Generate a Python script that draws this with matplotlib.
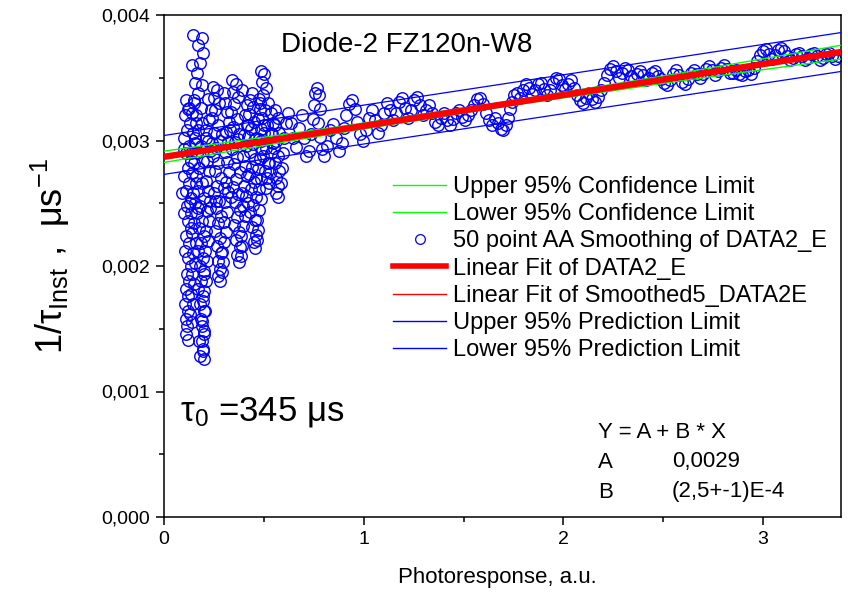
import matplotlib

matplotlib.use("Agg")
import matplotlib.pyplot as plt
import numpy as np
from matplotlib import font_manager
from matplotlib.lines import Line2D
from matplotlib.ticker import FuncFormatter, MultipleLocator

# photoresponse (a.u.) and 1/tau_inst in units of 1e-3 us^-1
column_a_down = [
    (0.11, 3.32), (0.125, 3.26), (0.105, 3.20), (0.13, 3.14), (0.115, 3.08), (0.10, 3.02),
    (0.125, 2.96), (0.11, 2.90), (0.135, 2.84), (0.12, 2.78), (0.10, 2.72), (0.125, 2.66),
    (0.11, 2.60), (0.135, 2.54), (0.115, 2.48), (0.10, 2.42), (0.12, 2.36), (0.135, 2.30),
    (0.11, 2.24), (0.125, 2.18), (0.105, 2.12), (0.12, 2.06), (0.135, 2.00), (0.115, 1.94),
    (0.125, 1.88), (0.11, 1.82), (0.12, 1.76), (0.105, 1.70), (0.12, 1.64), (0.11, 1.58),
    (0.115, 1.52), (0.11, 1.46), (0.12, 1.41),
]
column_a_up = [
    (0.14, 1.55), (0.13, 1.62), (0.145, 1.70), (0.135, 1.78), (0.15, 1.86), (0.14, 1.94),
    (0.155, 2.02), (0.145, 2.10), (0.16, 2.18), (0.14, 2.26), (0.15, 2.34), (0.135, 2.42),
    (0.155, 2.50), (0.145, 2.58), (0.16, 2.66), (0.14, 2.74), (0.15, 2.82), (0.135, 2.90),
    (0.155, 2.98), (0.145, 3.06), (0.16, 3.14), (0.14, 3.22), (0.15, 3.30),
]
spike_down = [
    (0.145, 3.84), (0.19, 3.82), (0.17, 3.76), (0.195, 3.70), (0.18, 3.62), (0.14, 3.60),
    (0.165, 3.54), (0.155, 3.46), (0.19, 3.44), (0.17, 3.38), (0.15, 3.32), (0.185, 3.26),
    (0.16, 3.20), (0.19, 3.14), (0.17, 3.08), (0.155, 3.02), (0.185, 2.96), (0.165, 2.90),
    (0.195, 2.84), (0.175, 2.78), (0.16, 2.72), (0.19, 2.66), (0.17, 2.60), (0.20, 2.54),
    (0.18, 2.48), (0.165, 2.42), (0.19, 2.36), (0.175, 2.30), (0.20, 2.24), (0.185, 2.18),
    (0.17, 2.12), (0.195, 2.06), (0.18, 2.00), (0.20, 1.94), (0.185, 1.88), (0.17, 1.82),
    (0.195, 1.76), (0.18, 1.70), (0.20, 1.64), (0.185, 1.58), (0.19, 1.52), (0.20, 1.46),
    (0.175, 1.40), (0.195, 1.34), (0.18, 1.28), (0.20, 1.26),
]
column_a_return = [
    (0.195, 1.32), (0.19, 1.40), (0.20, 1.48), (0.19, 1.56), (0.205, 1.64), (0.195, 1.72),
    (0.20, 1.80), (0.21, 1.88), (0.20, 1.96), (0.215, 2.04), (0.205, 2.12), (0.22, 2.20),
    (0.21, 2.28), (0.225, 2.36), (0.215, 2.44), (0.23, 2.52), (0.22, 2.60), (0.21, 2.68),
    (0.225, 2.76), (0.215, 2.84), (0.23, 2.92), (0.22, 3.00), (0.21, 3.08), (0.225, 3.16),
    (0.235, 3.24),
]
column_b_down = [
    (0.245, 3.43), (0.265, 3.40), (0.25, 3.34), (0.275, 3.30), (0.255, 3.24), (0.24, 3.18),
    (0.27, 3.12), (0.25, 3.06), (0.28, 3.00), (0.26, 2.94), (0.245, 2.88), (0.27, 2.82),
    (0.255, 2.76), (0.285, 2.70), (0.265, 2.64), (0.25, 2.58), (0.275, 2.52), (0.26, 2.46),
    (0.285, 2.40), (0.27, 2.34), (0.255, 2.28), (0.28, 2.22), (0.265, 2.16), (0.285, 2.10),
    (0.27, 2.04), (0.28, 1.98), (0.27, 1.92), (0.28, 1.88),
]
column_b_up = [
    (0.29, 1.95), (0.295, 2.03), (0.29, 2.11), (0.30, 2.19), (0.31, 2.27), (0.30, 2.35),
    (0.315, 2.43), (0.305, 2.51), (0.32, 2.59), (0.31, 2.67), (0.325, 2.75), (0.315, 2.83),
    (0.305, 2.91), (0.32, 2.99), (0.31, 3.07), (0.325, 3.15), (0.315, 3.23), (0.305, 3.30),
]
column_c_down = [
    (0.34, 3.48), (0.36, 3.45), (0.345, 3.39), (0.37, 3.35), (0.35, 3.29), (0.335, 3.23),
    (0.365, 3.17), (0.345, 3.11), (0.375, 3.05), (0.355, 2.99), (0.34, 2.93), (0.365, 2.87),
    (0.35, 2.81), (0.38, 2.75), (0.36, 2.69), (0.345, 2.63), (0.37, 2.57), (0.355, 2.51),
    (0.38, 2.45), (0.365, 2.39), (0.35, 2.33), (0.375, 2.27), (0.36, 2.21), (0.38, 2.15),
    (0.365, 2.09), (0.375, 2.03),
]
column_c_up = [
    (0.385, 2.08), (0.39, 2.16), (0.385, 2.24), (0.395, 2.32), (0.405, 2.40), (0.395, 2.48),
    (0.41, 2.56), (0.40, 2.64), (0.415, 2.72), (0.405, 2.80), (0.395, 2.88), (0.41, 2.96),
    (0.40, 3.04), (0.415, 3.12), (0.405, 3.20), (0.415, 3.28),
]
column_d_down = [
    (0.43, 3.32), (0.445, 3.27), (0.425, 3.21), (0.45, 3.15), (0.435, 3.09), (0.42, 3.03),
    (0.445, 2.97), (0.43, 2.91), (0.455, 2.85), (0.44, 2.79), (0.425, 2.73), (0.45, 2.67),
    (0.435, 2.61), (0.46, 2.55), (0.445, 2.49), (0.43, 2.43), (0.455, 2.37), (0.44, 2.31),
    (0.46, 2.25), (0.45, 2.19), (0.455, 2.14),
]
column_d_up = [
    (0.465, 2.21), (0.47, 2.29), (0.465, 2.37), (0.475, 2.45), (0.485, 2.53), (0.475, 2.61),
    (0.485, 2.69), (0.47, 2.77), (0.48, 2.85), (0.49, 2.93), (0.475, 3.01), (0.485, 3.09),
    (0.47, 3.17), (0.48, 3.25), (0.475, 3.33),
]
column_e_down = [
    (0.485, 3.55), (0.50, 3.53), (0.49, 3.47), (0.51, 3.42), (0.495, 3.36), (0.48, 3.30),
    (0.505, 3.24), (0.49, 3.18), (0.515, 3.12), (0.50, 3.06), (0.485, 3.00), (0.51, 2.94),
    (0.495, 2.88), (0.52, 2.82), (0.505, 2.76), (0.515, 2.70),
]
column_e_up = [
    (0.525, 2.66), (0.53, 2.74), (0.525, 2.82), (0.535, 2.90), (0.545, 2.98), (0.535, 3.06),
    (0.545, 3.14), (0.535, 3.22),
]
column_f_down = [
    (0.555, 3.24), (0.57, 3.18), (0.555, 3.12), (0.575, 3.06), (0.56, 3.00), (0.55, 2.94),
    (0.57, 2.88), (0.555, 2.82), (0.575, 2.76), (0.56, 2.70), (0.57, 2.64), (0.56, 2.58),
    (0.57, 2.55),
]
cluster_fill = [
    (0.09, 2.58), (0.10, 2.93), (0.13, 2.50), (0.16, 2.97), (0.17, 2.46), (0.21, 3.02),
    (0.23, 2.46), (0.24, 2.98), (0.26, 2.52), (0.29, 3.05), (0.30, 2.62), (0.33, 3.08),
    (0.335, 2.55), (0.37, 3.01), (0.39, 2.58), (0.42, 3.12), (0.42, 2.50), (0.46, 3.02),
    (0.46, 2.70), (0.50, 3.12), (0.51, 2.62), (0.54, 3.05), (0.52, 3.30), (0.44, 3.38),
    (0.39, 3.40), (0.30, 3.38), (0.22, 3.33), (0.12, 3.25),
]
trail_start = [
    (0.585, 2.66), (0.59, 2.78), (0.595, 2.90), (0.60, 3.02), (0.61, 3.14), (0.62, 3.22),
    (0.635, 3.14), (0.645, 3.02), (0.66, 2.95), (0.675, 3.10), (0.69, 3.20), (0.70, 3.02),
    (0.71, 2.88), (0.725, 2.92), (0.735, 3.05), (0.745, 3.17), (0.75, 3.28), (0.755, 3.38),
    (0.765, 3.42), (0.775, 3.36), (0.78, 3.25), (0.77, 3.14), (0.78, 3.03), (0.79, 2.93),
    (0.80, 2.88), (0.815, 2.96), (0.83, 3.08), (0.845, 3.13), (0.86, 3.02), (0.875, 2.92),
    (0.89, 2.98), (0.90, 3.10), (0.91, 3.20), (0.925, 3.29), (0.94, 3.32), (0.955, 3.25),
    (0.965, 3.15), (0.98, 3.05), (0.995, 3.00), (1.01, 3.08), (1.025, 3.18), (1.04, 3.24),
    (1.055, 3.16), (1.07, 3.06), (1.085, 3.12),
]
trail_middle = [
    (1.10, 3.22), (1.115, 3.30), (1.13, 3.24), (1.145, 3.16), (1.16, 3.22), (1.175, 3.31),
    (1.19, 3.34), (1.205, 3.26), (1.22, 3.18), (1.235, 3.24), (1.25, 3.32), (1.265, 3.35),
    (1.28, 3.28), (1.295, 3.20), (1.31, 3.24), (1.325, 3.28), (1.34, 3.22), (1.355, 3.15),
    (1.37, 3.12), (1.385, 3.18), (1.40, 3.22), (1.415, 3.16), (1.43, 3.12), (1.445, 3.17),
    (1.46, 3.22), (1.475, 3.24), (1.49, 3.19), (1.505, 3.16), (1.52, 3.20), (1.535, 3.24),
    (1.55, 3.28), (1.565, 3.33), (1.58, 3.34), (1.595, 3.29), (1.61, 3.22), (1.625, 3.16),
    (1.64, 3.12), (1.655, 3.18), (1.67, 3.14), (1.685, 3.09), (1.70, 3.08), (1.715, 3.12),
    (1.725, 3.18), (1.735, 3.25), (1.745, 3.31), (1.755, 3.36), (1.77, 3.38), (1.785, 3.34),
    (1.80, 3.40), (1.815, 3.45), (1.83, 3.42), (1.845, 3.37), (1.86, 3.40), (1.875, 3.45),
    (1.89, 3.46), (1.905, 3.41), (1.92, 3.36), (1.935, 3.40), (1.95, 3.46), (1.965, 3.50),
    (1.98, 3.49), (1.995, 3.44), (2.01, 3.41), (2.025, 3.45), (2.04, 3.48),
]
trail_end = [
    (2.055, 3.42), (2.07, 3.36), (2.085, 3.32), (2.10, 3.30), (2.115, 3.34), (2.13, 3.38),
    (2.145, 3.33), (2.16, 3.31), (2.175, 3.35), (2.19, 3.40), (2.205, 3.46), (2.22, 3.52),
    (2.235, 3.57), (2.25, 3.59), (2.265, 3.55), (2.28, 3.50), (2.295, 3.54), (2.31, 3.58),
    (2.325, 3.56), (2.34, 3.51), (2.355, 3.49), (2.37, 3.53), (2.385, 3.55), (2.40, 3.52),
    (2.415, 3.48), (2.43, 3.50), (2.445, 3.54), (2.46, 3.55), (2.475, 3.51), (2.49, 3.49),
    (2.505, 3.46), (2.52, 3.44), (2.535, 3.48), (2.55, 3.53), (2.565, 3.56), (2.58, 3.52),
    (2.595, 3.47), (2.61, 3.45), (2.625, 3.49), (2.64, 3.54), (2.655, 3.56), (2.67, 3.53),
    (2.685, 3.50), (2.70, 3.53), (2.715, 3.57), (2.73, 3.59), (2.745, 3.56), (2.76, 3.52),
    (2.775, 3.55), (2.79, 3.58), (2.805, 3.60), (2.82, 3.57), (2.835, 3.54), (2.85, 3.54),
    (2.865, 3.56), (2.88, 3.53), (2.895, 3.52), (2.91, 3.55), (2.925, 3.56), (2.94, 3.53),
    (2.955, 3.58), (2.97, 3.63), (2.985, 3.68), (3.00, 3.71), (3.015, 3.73), (3.03, 3.69),
    (3.045, 3.65), (3.06, 3.68), (3.075, 3.72), (3.09, 3.74), (3.105, 3.71), (3.12, 3.67),
    (3.135, 3.64), (3.15, 3.66), (3.165, 3.69), (3.18, 3.70), (3.195, 3.67), (3.21, 3.64),
    (3.225, 3.66), (3.24, 3.69), (3.255, 3.70), (3.27, 3.67), (3.285, 3.64), (3.30, 3.66),
    (3.315, 3.69), (3.33, 3.70), (3.345, 3.67), (3.36, 3.65), (3.375, 3.67),
]

# fit lines and bands (same milli units)
fit_x = [0.0, 3.39]
fit_y = [2.87, 3.705]
smoothed_fit_y = [2.88, 3.70]
prediction_upper = [3.04, 3.86]
prediction_lower = [2.73, 3.55]
confidence_x = [0.0, 0.85, 1.7, 2.55, 3.39]
confidence_upper = [2.915, 3.104, 3.306, 3.527, 3.759]
confidence_lower = [2.825, 3.054, 3.270, 3.467, 3.649]

segments = [
    column_a_down, column_a_up, spike_down, column_a_return,
    column_b_down, column_b_up, column_c_down, column_c_up,
    column_d_down, column_d_up, column_e_down, column_e_up,
    column_f_down, cluster_fill, trail_start, trail_middle, trail_end,
]
points = np.array([p for segment in segments for p in segment])
photo = points[:, 0]
rate = points[:, 1] * 1e-3


def milli(values):
    return np.asarray(values) * 1e-3


installed = {f.name for f in font_manager.fontManager.ttflist}
narrow = "Liberation Sans Narrow" if "Liberation Sans Narrow" in installed else "Liberation Sans"

plt.rcParams["font.family"] = ["Liberation Sans", "DejaVu Sans"]
plt.rcParams["mathtext.fontset"] = "custom"
plt.rcParams["mathtext.rm"] = "Liberation Sans"

BLUE = "#0000ff"
GREEN = "#00ff00"
RED = "#ff0000"

fig = plt.figure(figsize=(8.48, 5.94), dpi=100)
ax = fig.add_axes([164 / 848, 1 - 517 / 594, 677 / 848, 502 / 594])

ax.plot(photo, rate, linestyle="none", marker="o", markersize=8.3,
        markerfacecolor="none", markeredgecolor=BLUE, markeredgewidth=1.0, zorder=2)
ax.plot(confidence_x, milli(confidence_upper), color=GREEN, lw=1.0, zorder=3)
ax.plot(confidence_x, milli(confidence_lower), color=GREEN, lw=1.0, zorder=3)
ax.plot(fit_x, milli(prediction_upper), color=BLUE, lw=0.9, zorder=3)
ax.plot(fit_x, milli(prediction_lower), color=BLUE, lw=0.9, zorder=3)
ax.plot(fit_x, milli(smoothed_fit_y), color=RED, lw=1.0, zorder=4)
ax.plot(fit_x, milli(fit_y), color=RED, lw=4.6, zorder=5, solid_capstyle="butt")

ax.set_xlim(0, 3.39)
ax.set_ylim(0, 0.004)
ax.xaxis.set_major_locator(MultipleLocator(1))
ax.xaxis.set_minor_locator(MultipleLocator(0.5))
ax.yaxis.set_major_locator(MultipleLocator(0.001))
ax.yaxis.set_minor_locator(MultipleLocator(0.0005))
ax.yaxis.set_major_formatter(FuncFormatter(lambda v, _: f"{v:.3f}".replace(".", ",")))
ax.xaxis.set_major_formatter(FuncFormatter(lambda v, _: f"{v:.0f}"))
ax.tick_params(which="both", direction="out", top=False, right=False, width=1.1)
ax.tick_params(which="major", length=6, labelsize=14, pad=4)
ax.tick_params(which="minor", length=3.5)
for label in ax.get_xticklabels() + ax.get_yticklabels():
    label.set_family(narrow)
for spine in ax.spines.values():
    spine.set_linewidth(1.1)

handles = [
    Line2D([], [], color=GREEN, lw=1.0),
    Line2D([], [], color=GREEN, lw=1.0),
    Line2D([], [], linestyle="none", marker="o", markersize=7.0,
           markerfacecolor="none", markeredgecolor=BLUE, markeredgewidth=0.9),
    Line2D([], [], color=RED, lw=4.0),
    Line2D([], [], color=RED, lw=1.0),
    Line2D([], [], color=BLUE, lw=1.0),
    Line2D([], [], color=BLUE, lw=1.0),
]
labels = [
    "Upper 95% Confidence Limit",
    "Lower 95% Confidence Limit",
    "50 point AA Smoothing of DATA2_E",
    "Linear Fit of DATA2_E",
    "Linear Fit of Smoothed5_DATA2E",
    "Upper 95% Prediction Limit",
    "Lower 95% Prediction Limit",
]
fig.legend(handles, labels, loc="upper left", bbox_to_anchor=(393 / 848, 1 - 176 / 594),
           frameon=False, fontsize=17, handlelength=2.25, handletextpad=0.3,
           labelspacing=0.22, borderpad=0, borderaxespad=0)

fig.text(407 / 848, 1 - 45 / 594, "Diode-2 FZ120n-W8", ha="center", va="center", fontsize=20)
fig.text(180 / 848, 1 - 412 / 594, r"$\mathregular{τ_0}$ =345 μs", ha="left", va="center",
         fontsize=25)
fig.text(598 / 848, 1 - 432 / 594, "Y = A + B * X", ha="left", va="center", fontsize=16,
         family=narrow)
fig.text(598 / 848, 1 - 462 / 594, "A", ha="left", va="center", fontsize=16, family=narrow)
fig.text(672 / 848, 1 - 462 / 594, "0,0029", ha="left", va="center", fontsize=16, family=narrow)
fig.text(598 / 848, 1 - 492 / 594, "B", ha="left", va="center", fontsize=16, family=narrow)
fig.text(672 / 848, 1 - 492 / 594, "(2,5+-1)E-4", ha="left", va="center", fontsize=16,
         family=narrow)

fig.text(50 / 848, 1 - 256 / 594, r"$\mathregular{1/τ_{Inst}\ ,\ μs^{-1}}$", rotation=90,
         ha="center", va="center", fontsize=26)
fig.text(497 / 848, 1 - 578 / 594, "Photoresponse, a.u.", ha="center", va="center",
         fontsize=16, family=narrow)

fig.savefig("out.png", dpi=100)
